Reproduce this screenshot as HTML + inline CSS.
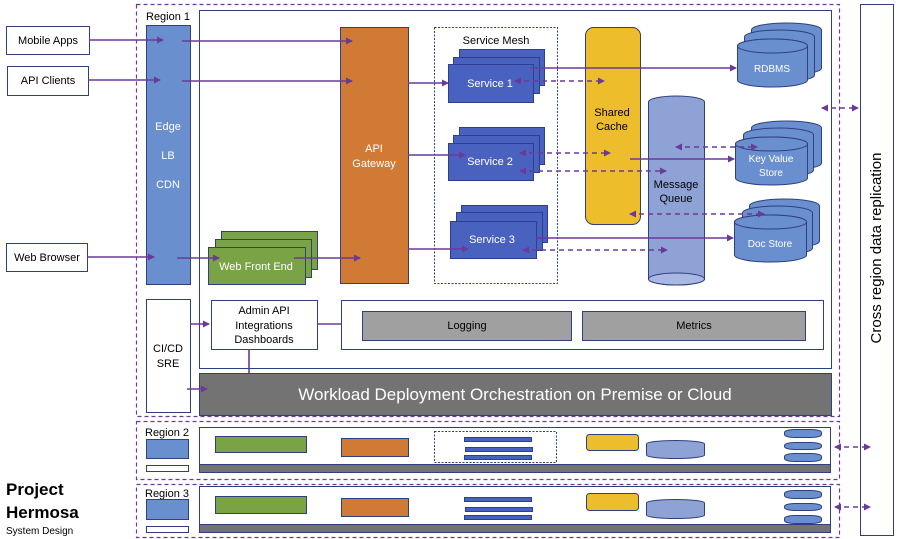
<!DOCTYPE html>
<html><head><meta charset="utf-8"><style>body{margin:0;background:#fff}svg{display:block;font-family:"Liberation Sans",sans-serif}</style></head><body>
<svg width="901" height="539" viewBox="0 0 901 539" xmlns="http://www.w3.org/2000/svg">
<defs>
<marker id="a" markerWidth="8" markerHeight="8" refX="6" refY="4" orient="auto-start-reverse" markerUnits="userSpaceOnUse"><path d="M0,0.5 L7,4 L0,7.5z" fill="#6a3a9a"/></marker>
</defs>
<g fill="none" stroke="#6a3a9a" stroke-dasharray="4,3" stroke-width="1.2">
<rect x="136.5" y="4.5" width="703" height="412"/>
<rect x="136.5" y="421.5" width="703" height="58"/>
<rect x="136.5" y="484.5" width="703" height="53"/>
</g>
<rect x="860.5" y="4.5" width="33" height="531" fill="#fff" stroke="#2f3f7f"/>
<text transform="translate(881,248) rotate(-90)" text-anchor="middle" font-size="15" fill="#000">Cross region data replication</text>
<rect x="199.5" y="10.5" width="632" height="358" fill="#fff" stroke="#2f3f7f"/>
<text x="146" y="20" font-size="11">Region 1</text>
<g font-size="11" text-anchor="middle" fill="#000">
<rect x="6.5" y="26.5" width="83" height="28" fill="#fff" stroke="#2f3f7f"/><text x="48" y="44">Mobile Apps</text>
<rect x="7.5" y="66.5" width="81" height="29" fill="#fff" stroke="#2f3f7f"/><text x="48" y="84">API Clients</text>
<rect x="6.5" y="243.5" width="81" height="28" fill="#fff" stroke="#2f3f7f"/><text x="47" y="261">Web Browser</text>
</g>
<rect x="146.5" y="25.5" width="44" height="259" fill="#6a8fcf" stroke="#2f3f7f"/>
<g fill="#fff" font-size="11" text-anchor="middle"><text x="168" y="130">Edge</text><text x="168" y="159">LB</text><text x="168" y="188">CDN</text></g>
<rect x="340.5" y="27.5" width="68" height="256" fill="#d07a35" stroke="#2f3f7f"/>
<g fill="#fff" font-size="11" text-anchor="middle"><text x="374" y="152">API</text><text x="374" y="167">Gateway</text></g>
<g fill="#7aa346" stroke="#2f3f7f"><rect x="221.5" y="231.5" width="96" height="38"/><rect x="215.5" y="239.5" width="96" height="38"/><rect x="208.5" y="247.5" width="97" height="37"/></g>
<text x="256" y="270" fill="#fff" font-size="11" text-anchor="middle">Web Front End</text>
<rect x="146.5" y="299.5" width="44" height="113" fill="#fff" stroke="#2f3f7f"/>
<g font-size="11" text-anchor="middle"><text x="168" y="352">CI/CD</text><text x="168" y="367">SRE</text></g>
<rect x="211.5" y="300.5" width="106" height="49" fill="#fff" stroke="#2f3f7f"/>
<g font-size="11" text-anchor="middle"><text x="264" y="314">Admin API</text><text x="264" y="329">Integrations</text><text x="264" y="343">Dashboards</text></g>
<rect x="341.5" y="300.5" width="482" height="49" fill="#fff" stroke="#2f3f7f"/>
<rect x="362.5" y="311.5" width="209" height="29" fill="#a0a0a0" stroke="#2f3f7f"/>
<rect x="582.5" y="311.5" width="223" height="29" fill="#a0a0a0" stroke="#2f3f7f"/>
<g font-size="11" text-anchor="middle"><text x="467" y="329">Logging</text><text x="694" y="329">Metrics</text></g>
<rect x="199.5" y="373.5" width="632" height="42" fill="#737373" stroke="#2f3f7f"/>
<text x="515" y="400" fill="#fff" font-size="17" text-anchor="middle">Workload Deployment Orchestration on Premise or Cloud</text>
<rect x="434.5" y="27.5" width="123" height="256" fill="#fff" stroke="#2f3f7f" stroke-dasharray="2,1.5"/>
<text x="496" y="44" font-size="11" text-anchor="middle">Service Mesh</text>
<g fill="#4a62bf" stroke="#2f3f8f">
<rect x="459.5" y="49.5" width="85" height="36"/><rect x="453.5" y="57.5" width="86" height="36"/><rect x="448.5" y="64.5" width="85" height="38"/>
<rect x="459.5" y="127.5" width="85" height="37"/><rect x="453.5" y="135.5" width="86" height="37"/><rect x="448.5" y="143.5" width="85" height="37"/>
<rect x="461.5" y="205.5" width="86" height="37"/><rect x="456.5" y="212.5" width="86" height="38"/><rect x="450.5" y="221.5" width="86" height="37"/>
</g>
<g fill="#fff" font-size="11" text-anchor="middle"><text x="490" y="87">Service 1</text><text x="490" y="165">Service 2</text><text x="492" y="243">Service 3</text></g>
<rect x="585.5" y="27.5" width="55" height="197" rx="8" fill="#eebd2b" stroke="#2f3f7f"/>
<g font-size="11" text-anchor="middle"><text x="612" y="116">Shared</text><text x="612" y="130">Cache</text></g>
<path d="M648.5,102 V279 A28,6 0 0 0 704.5,279 V102 A28,6 0 0 0 648.5,102z" fill="#8fa2d6" stroke="#2f3f7f"/>
<ellipse cx="676.5" cy="279" rx="28" ry="6" fill="#a9b8e2" stroke="#2f3f7f"/>
<g font-size="11" text-anchor="middle"><text x="676" y="188">Message</text><text x="676" y="202">Queue</text></g>
<g fill="#6a8fcf" stroke="#2f3f7f">
<path d="M751.5,30 V68 A35,7 0 0 0 821.5,68 V30 A35,7 0 0 0 751.5,30z"/><path d="M744.5,37 V75 A35,7 0 0 0 814.5,75 V37 A35,7 0 0 0 744.5,37z"/><path d="M737.5,46 V80 A35,7 0 0 0 807.5,80 V46 A35,7 0 0 0 737.5,46z"/><ellipse cx="772.5" cy="46" rx="35" ry="7"/>
<path d="M751.5,128 V163 A35,7 0 0 0 821.5,163 V128 A35,7 0 0 0 751.5,128z"/><path d="M743.5,135 V170 A35,7 0 0 0 813.5,170 V135 A35,7 0 0 0 743.5,135z"/><path d="M735.5,144 V178 A36,7 0 0 0 807.5,178 V144 A36,7 0 0 0 735.5,144z"/><ellipse cx="771.5" cy="144" rx="36" ry="7"/>
<path d="M749.5,206 V241 A35,7 0 0 0 819.5,241 V206 A35,7 0 0 0 749.5,206z"/><path d="M742.5,213 V248 A35,7 0 0 0 812.5,248 V213 A35,7 0 0 0 742.5,213z"/><path d="M734.5,222 V255 A36,7 0 0 0 806.5,255 V222 A36,7 0 0 0 734.5,222z"/><ellipse cx="770.5" cy="222" rx="36" ry="7"/>
</g>
<g fill="#fff" font-size="10" text-anchor="middle"><text x="772" y="72">RDBMS</text><text x="771" y="162">Key Value</text><text x="771" y="176">Store</text><text x="770" y="247">Doc Store</text></g>
<g stroke="#6a3a9a" stroke-width="1.6" fill="none" marker-end="url(#a)">
<path d="M89,40 H163"/><path d="M182,41 H352"/><path d="M88,80 H160"/><path d="M182,81 H352"/>
<path d="M87,257 H154"/><path d="M177,258 H219"/><path d="M294,258 H360"/>
<path d="M408,83 H448"/><path d="M408,155 H465"/><path d="M408,249 H468"/>
<path d="M531,68 H736"/><path d="M630,159 H734"/><path d="M536,238 H733"/>
<path d="M190,324 H209"/><path d="M187,389 H207"/>
</g>
<g stroke="#6a3a9a" stroke-width="1.6" fill="none"><path d="M317,324 H341"/><path d="M249,349 V373"/></g>
<g stroke="#6a3a9a" stroke-width="1.6" fill="none" stroke-dasharray="5,4" marker-start="url(#a)" marker-end="url(#a)">
<path d="M515,81 H604"/><path d="M520,153 H610"/><path d="M520,171 H666"/><path d="M676,147 H757"/><path d="M523,250 H667"/><path d="M630,214 H764"/>
<path d="M822,108 H858"/><path d="M835,447 H870"/><path d="M835,507 H870"/>
</g>
<!-- Region 2 -->
<text x="145" y="436" font-size="11">Region 2</text>
<rect x="146.5" y="439.5" width="42" height="19" fill="#6a8fcf" stroke="#2f3f7f"/>
<rect x="146.5" y="465.5" width="42" height="6" fill="#fff" stroke="#2f3f7f"/>
<rect x="199.5" y="427.5" width="631" height="45" fill="#fff" stroke="#2f3f7f"/>
<rect x="199.5" y="464.5" width="631" height="8" fill="#737373" stroke="#2f3f7f"/>
<rect x="215.5" y="436.5" width="91" height="16" fill="#7aa346" stroke="#2f3f7f"/>
<rect x="341.5" y="438.5" width="67" height="18" fill="#d07a35" stroke="#2f3f7f"/>
<rect x="434.5" y="431.5" width="122" height="31" fill="#fff" stroke="#2f3f7f" stroke-dasharray="2,1.5"/>
<g fill="#4a62bf" stroke="#2f3f8f"><rect x="464.5" y="437.5" width="67" height="4"/><rect x="465.5" y="447.5" width="67" height="4"/><rect x="464.5" y="455.5" width="67" height="4"/></g>
<rect x="586.5" y="434.5" width="52" height="16" rx="3" fill="#eebd2b" stroke="#2f3f7f"/>
<path d="M646.5,444 V455 A29,3.5 0 0 0 704.5,455 V444 A29,3.5 0 0 0 646.5,444z" fill="#8fa2d6" stroke="#2f3f7f"/>
<g fill="#6a8fcf" stroke="#2f3f7f"><rect x="784.5" y="429.5" width="37" height="8" rx="10" ry="3"/><rect x="784.5" y="442.5" width="37" height="7" rx="10" ry="3"/><rect x="784.5" y="453.5" width="37" height="8" rx="10" ry="3"/></g>
<!-- Region 3 -->
<text x="145" y="497" font-size="11">Region 3</text>
<rect x="146.5" y="499.5" width="42" height="20" fill="#6a8fcf" stroke="#2f3f7f"/>
<rect x="146.5" y="526.5" width="42" height="6" fill="#fff" stroke="#2f3f7f"/>
<rect x="199.5" y="486.5" width="631" height="46" fill="#fff" stroke="#2f3f7f"/>
<rect x="199.5" y="524.5" width="631" height="8" fill="#737373" stroke="#2f3f7f"/>
<rect x="215.5" y="496.5" width="91" height="17" fill="#7aa346" stroke="#2f3f7f"/>
<rect x="341.5" y="498.5" width="67" height="18" fill="#d07a35" stroke="#2f3f7f"/>
<g fill="#4a62bf" stroke="#2f3f8f"><rect x="464.5" y="497.5" width="67" height="4"/><rect x="465.5" y="507.5" width="67" height="4"/><rect x="464.5" y="515.5" width="67" height="4"/></g>
<rect x="586.5" y="493.5" width="52" height="17" rx="3" fill="#eebd2b" stroke="#2f3f7f"/>
<path d="M646.5,503 V515 A29,3.5 0 0 0 704.5,515 V503 A29,3.5 0 0 0 646.5,503z" fill="#8fa2d6" stroke="#2f3f7f"/>
<g fill="#6a8fcf" stroke="#2f3f7f"><rect x="784.5" y="490.5" width="37" height="8" rx="10" ry="3"/><rect x="784.5" y="503.5" width="37" height="7" rx="10" ry="3"/><rect x="784.5" y="515.5" width="37" height="8" rx="10" ry="3"/></g>
<text x="6" y="495" font-size="17" font-weight="bold">Project</text>
<text x="6" y="518" font-size="17" font-weight="bold">Hermosa</text>
<text x="6" y="534" font-size="10">System Design</text>
</svg>
</body></html>
